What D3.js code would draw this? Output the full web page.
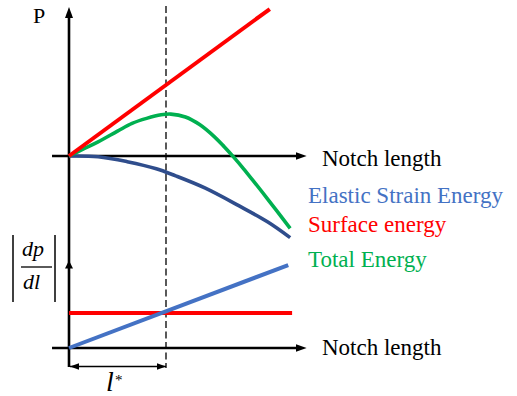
<!DOCTYPE html>
<html>
<head>
<meta charset="utf-8">
<script src="https://cdn.jsdelivr.net/npm/d3@7"></script>
</head>
<body style="margin:0">
<svg id="chart" width="517" height="396"></svg>
<script>
// Notch length in units of the critical length l*
const surfaceL      = [0, 2.07];
const surfaceE      = [0, 2.07];
const elasticL      = [0, 0.3, 0.6, 0.9, 1.1, 1.4, 1.75, 2.05, 2.28];
const elasticE      = [0, -0.01, -0.08, -0.18, -0.28, -0.45, -0.70, -0.93, -1.15];
const totalL        = [0, 0.15, 0.3, 0.5, 0.65, 0.8, 0.95, 1.05, 1.2, 1.35, 1.5, 1.6, 1.7, 1.8, 1.9, 2.05, 2.28];
const totalE        = [0, 0.10, 0.20, 0.35, 0.46, 0.53, 0.58, 0.59, 0.55, 0.44, 0.27, 0.13, -0.02, -0.18, -0.35, -0.61, -1.02];
// Rates |dP/dl|
const releaseL      = [0, 2.26];
const releaseRate   = [0, 2.37];
const resistL       = [0, 2.30];
const resistRate    = [1, 1];
const legendLabels  = ["Elastic Strain Energy", "Surface energy", "Total Energy"];
const xAxisLabel    = "Notch length";

const colors = { elastic: "#2F4D8C", surface: "#FF0000", total: "#00B050", rate: "#4472C4" };

const svg = d3.select("#chart");

const x    = d3.scaleLinear().domain([0, 1]).range([69, 166]);
const yTop = d3.scaleLinear().domain([0, 1]).range([156, 85]);
const yBot = d3.scaleLinear().domain([0, 1]).range([348, 313]);

const zip = (a, b) => a.map((v, i) => [v, b[i]]);

// arrow heads
const defs = svg.append("defs");
defs.append("marker")
  .attr("id", "arrow").attr("markerUnits", "userSpaceOnUse")
  .attr("markerWidth", 12).attr("markerHeight", 10)
  .attr("viewBox", "0 0 12 10").attr("refX", 3).attr("refY", 5)
  .attr("orient", "auto")
  .append("path").attr("d", "M0,1 L11,5 L0,9 Z").attr("fill", "#000");
defs.append("marker")
  .attr("id", "dim").attr("markerUnits", "userSpaceOnUse")
  .attr("markerWidth", 10).attr("markerHeight", 8)
  .attr("viewBox", "0 0 10 8").attr("refX", 9).attr("refY", 4)
  .attr("orient", "auto-start-reverse")
  .append("path").attr("d", "M0,0.8 L9,4 L0,7.2 Z").attr("fill", "#000");

// axes
const axisG = svg.append("g").attr("stroke", "#000").attr("stroke-width", 2.6).attr("fill", "none");
// shared vertical axis
axisG.append("line")
  .attr("x1", x(0)).attr("x2", x(0))
  .attr("y1", 367).attr("y2", yTop(2.1) + 8)
  .attr("marker-end", "url(#arrow)");
// small arrow for the rate panel
axisG.append("path")
  .attr("d", `M${x(0) - 4},${yBot(2.5) + 8} L${x(0)},${yBot(2.5)} L${x(0) + 4},${yBot(2.5) + 8} Z`)
  .attr("fill", "#000").attr("stroke", "none");
// horizontal axes
axisG.append("line")
  .attr("x1", x(-0.175)).attr("x2", x(2.45) - 8)
  .attr("y1", yTop(0)).attr("y2", yTop(0))
  .attr("marker-end", "url(#arrow)");
axisG.append("line")
  .attr("x1", x(-0.175)).attr("x2", x(2.45) - 8)
  .attr("y1", yBot(0)).attr("y2", yBot(0))
  .attr("marker-end", "url(#arrow)");

// dashed marker at l*
svg.append("line")
  .attr("x1", x(1)).attr("x2", x(1))
  .attr("y1", 6).attr("y2", 368)
  .attr("stroke", "#000").attr("stroke-width", 1.3)
  .attr("stroke-dasharray", "7,3.5");

// l* dimension
svg.append("line")
  .attr("x1", x(0) + 1).attr("x2", x(1))
  .attr("y1", 366.5).attr("y2", 366.5)
  .attr("stroke", "#000").attr("stroke-width", 1.3)
  .attr("marker-start", "url(#dim)").attr("marker-end", "url(#dim)");

// energy curves
const lineTop = d3.line().x(d => x(d[0])).y(d => yTop(d[1])).curve(d3.curveCatmullRom.alpha(0.5));
const lineBot = d3.line().x(d => x(d[0])).y(d => yBot(d[1]));

svg.append("path").datum(zip(elasticL, elasticE)).attr("d", lineTop)
  .attr("fill", "none").attr("stroke", colors.elastic).attr("stroke-width", 3.6);
svg.append("path").datum(zip(totalL, totalE)).attr("d", lineTop)
  .attr("fill", "none").attr("stroke", colors.total).attr("stroke-width", 3.6);
svg.append("path").datum(zip(surfaceL, surfaceE)).attr("d", lineTop)
  .attr("fill", "none").attr("stroke", colors.surface).attr("stroke-width", 4);

// rate lines
svg.append("path").datum(zip(resistL, resistRate)).attr("d", lineBot)
  .attr("fill", "none").attr("stroke", colors.surface).attr("stroke-width", 4);
svg.append("path").datum(zip(releaseL, releaseRate)).attr("d", lineBot)
  .attr("fill", "none").attr("stroke", colors.rate).attr("stroke-width", 4);

// text labels
const labels = [
  { t: "P",             x: 33,  y: 23,  size: 22, fill: "#000" },
  { t: xAxisLabel,      x: 322, y: 166, size: 23, fill: "#000" },
  { t: xAxisLabel,      x: 322, y: 355, size: 23, fill: "#000" },
  { t: legendLabels[0], x: 308, y: 203, size: 23, fill: colors.rate },
  { t: legendLabels[1], x: 308, y: 232, size: 23, fill: colors.surface },
  { t: legendLabels[2], x: 308, y: 267, size: 23, fill: colors.total },
  { t: "dp",            x: 22,  y: 256, size: 22, fill: "#000", it: true },
  { t: "dl",            x: 23,  y: 289, size: 22, fill: "#000", it: true },
  { t: "l",             x: 106, y: 391, size: 28, fill: "#000", it: true },
  { t: "*",             x: 115, y: 385, size: 15, fill: "#000" }
];
svg.append("g").selectAll("text").data(labels).join("text")
  .attr("x", d => d.x).attr("y", d => d.y)
  .attr("font-size", d => d.size)
  .attr("fill", d => d.fill)
  .style("font-family", "'Liberation Serif'")
  .style("font-style", d => d.it ? "italic" : null)
  .text(d => d.t);

// |dp/dl| bars and fraction rule
const frac = svg.append("g").attr("stroke", "#000").attr("stroke-width", 1.5);
frac.append("line").attr("x1", 13).attr("x2", 13).attr("y1", 235).attr("y2", 302);
frac.append("line").attr("x1", 55).attr("x2", 55).attr("y1", 235).attr("y2", 302);
frac.append("line").attr("x1", 21).attr("x2", 52).attr("y1", 267).attr("y2", 267).attr("stroke-width", 1.3);
</script>
</body>
</html>
